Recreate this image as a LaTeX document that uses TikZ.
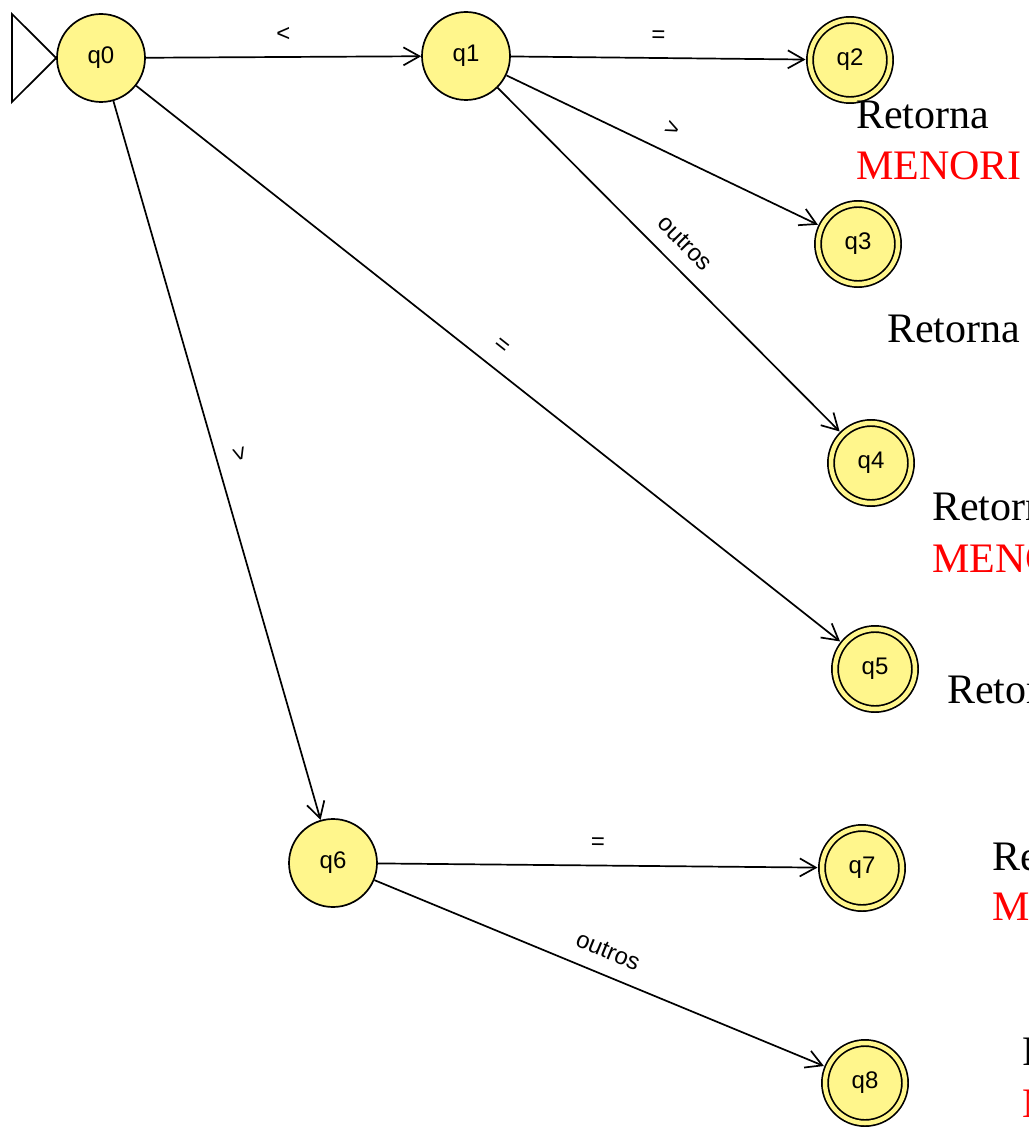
\documentclass[tikz,border=0pt]{standalone}
\usepackage{fontspec}
\setmainfont{Liberation Serif}
\newfontfamily\statefont{Liberation Sans}
\usetikzlibrary{arrows.meta}
\definecolor{statefill}{RGB}{255,246,140}
\definecolor{retred}{RGB}{255,0,0}
\begin{document}
\begin{tikzpicture}[x=1pt,y=-1pt,
  state/.style={circle, draw, line width=1.7pt, fill=statefill, minimum size=88pt, inner sep=0pt, font=\statefont\fontsize{24}{28}\selectfont},
  accept/.style={state, minimum size=80pt, double=statefill, double distance=4.5pt, outer sep=4.5pt},
  edge/.style={line width=1.7pt, -{Straight Barb[length=16pt,width=18pt]}},
  elabel/.style={font=\statefont\fontsize{24}{28}\selectfont, sloped, above=11pt, text height=16pt, text depth=4pt, inner sep=0pt},
  ret/.style={anchor=base west, inner sep=0pt, font=\fontsize{42}{50}\selectfont}
]
\useasboundingbox (0,0) rectangle (1028,1131);
\fill[white] (0,0) rectangle (1028,1131);
\begin{scope}
\clip (0,0) rectangle (1028,1131);
% states
\node[state]  (q0) at (101,58)  {q0};
\node[state]  (q1) at (466,56)  {q1};
\node[accept] (q2) at (850,60)  {q2};
\node[accept] (q3) at (858,244) {q3};
\node[accept] (q4) at (871,463) {q4};
\node[accept] (q5) at (875,669) {q5};
\node[state]  (q6) at (333,863) {q6};
\node[accept] (q7) at (862,868) {q7};
\node[accept] (q8) at (865,1083) {q8};
% start marker
\coordinate (s1) at (12,14);
\coordinate (s2) at (12,102);
\draw[line width=1.7pt, fill=white] (s1) -- (q0.west) -- (s2) -- cycle;
% transitions
\draw[edge] (q0) -- node[elabel]{<} (q1);
\draw[edge] (q1) -- node[elabel]{=} (q2);
\draw[edge] (q1) -- node[elabel]{>} (q3);
\draw[edge] (q1) -- node[elabel]{outros} (q4);
\draw[edge] (q0) -- node[elabel]{=} (q5);
\draw[edge] (q0) -- node[elabel]{>} (q6);
\draw[edge] (q6) -- node[elabel]{=} (q7);
\draw[edge] (q6) -- node[elabel]{outros} (q8);
% return texts
\node[ret] (t1a) at (856,129) {Retorna};
\node[ret, text=retred] (t1b) at (856,180) {MENORI};
\node[ret] (t2a) at (887,342) {Retorna};
\node[ret] (t3a) at (932,520) {Retorna};
\node[ret, text=retred] (t3b) at (932,572) {MENOR};
\node[ret] (t4a) at (947,703) {Retorna};
\node[ret] (t5a) at (992,870) {Retorna};
\node[ret, text=retred] (t5b) at (992,920) {MAIOR};
\node[ret] (t6a) at (1022,1065) {Retorna};
\node[ret, text=retred] (t6b) at (1022,1117) {MAIOR};
\end{scope}
\end{tikzpicture}
\end{document}
